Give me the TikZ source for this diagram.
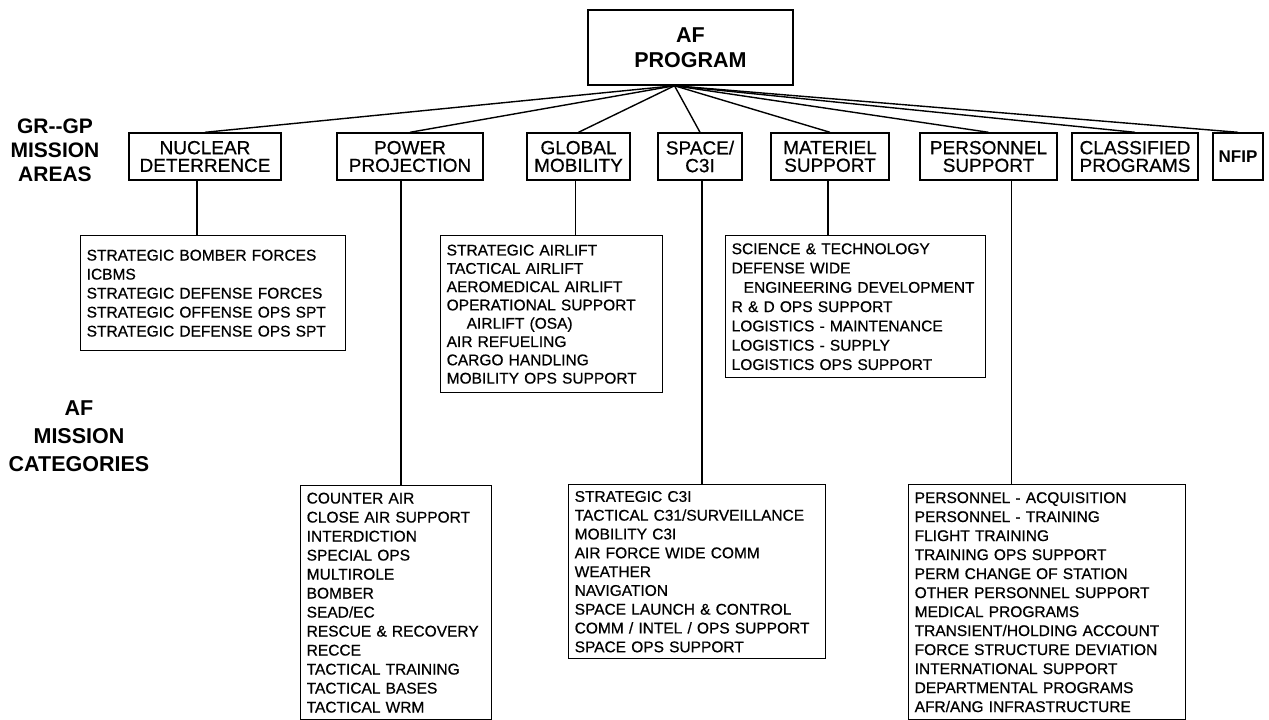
\documentclass[tikz,border=0pt]{standalone}
\usepackage{fontspec}
\setmainfont{Liberation Sans}
\newfontfamily\printfont{Liberation Sans}[UprightFeatures={FakeBold=0.6}]

\tikzset{
  prog/.style={draw,line width=1.5pt,align=center,inner sep=0pt,font=\bfseries\fontsize{21.5}{25}\selectfont},
  area/.style={draw,line width=1.4pt,align=center,inner sep=0pt,font=\printfont\fontsize{19}{17.7}\selectfont},
  cat/.style={draw,line width=1.4pt,anchor=north west,align=left,inner xsep=6pt,inner ysep=0pt,font=\printfont\fontsize{15.5}{19}\selectfont},
  head/.style={align=center,font=\bfseries\fontsize{21}{24}\selectfont},
  link/.style={line width=1.4pt}
}

\begin{document}
\begin{tikzpicture}[x=1pt,y=-1pt]
\useasboundingbox (0,0) rectangle (1269,720);

% top
\node[prog,minimum width=205,minimum height=75] at (690.5,47.5) (af) {AF\\PROGRAM};
\coordinate (hub) at ([xshift=-16pt]af.south);

% side labels
\node[head] at (55,150) (gplabel) {GR-{}-GP\\MISSION\\AREAS};
\node[head,font=\bfseries\fontsize{21.5}{28}\selectfont] at (79,436) (catlabel) {AF\\MISSION\\CATEGORIES};

% mission areas
\node[area,minimum width=152,minimum height=47] at (205,156.5) (nd) {NUCLEAR\\DETERRENCE};
\node[area,minimum width=146,minimum height=47] at (410,156.5) (pp) {POWER\\PROJECTION};
\node[area,minimum width=103,minimum height=47] at (578.5,156.5) (gm) {GLOBAL\\MOBILITY};
\node[area,minimum width=84,minimum height=47] at (700,156.5) (sc) {SPACE/\\C3I};
\node[area,minimum width=118,minimum height=47] at (830,156.5) (ms) {MATERIEL\\SUPPORT};
\node[area,minimum width=137,minimum height=47] at (988.5,156.5) (ps) {PERSONNEL\\SUPPORT};
\node[area,minimum width=126,minimum height=47] at (1135,156.5) (cp) {CLASSIFIED\\PROGRAMS};
\node[area,minimum width=50,minimum height=47,font=\bfseries\fontsize{17}{17.7}\selectfont] at (1238,156.5) (nf) {NFIP};

% mission categories
\node[cat,text width=253,minimum height=115] at (80,235) (ndcat) {STRATEGIC BOMBER FORCES\\ICBMS\\STRATEGIC DEFENSE FORCES\\STRATEGIC OFFENSE OPS SPT\\STRATEGIC DEFENSE OPS SPT};
\node[cat,text width=179,minimum height=234] at (300,485) (ppcat) {COUNTER AIR\\CLOSE AIR SUPPORT\\INTERDICTION\\SPECIAL OPS\\MULTIROLE\\BOMBER\\SEAD/EC\\RESCUE \& RECOVERY\\RECCE\\TACTICAL TRAINING\\TACTICAL BASES\\TACTICAL WRM};
\node[cat,text width=210,minimum height=157,font=\printfont\fontsize{15.5}{18.3}\selectfont] at (440,235) (gmcat) {STRATEGIC AIRLIFT\\TACTICAL AIRLIFT\\AEROMEDICAL AIRLIFT\\OPERATIONAL SUPPORT\\\hspace*{20pt}AIRLIFT (OSA)\\AIR REFUELING\\CARGO HANDLING\\MOBILITY OPS SUPPORT};
\node[cat,text width=245,minimum height=174,font=\printfont\fontsize{15.5}{18.8}\selectfont] at (568,484) (sccat) {STRATEGIC C3I\\TACTICAL C31/SURVEILLANCE\\MOBILITY C3I\\AIR FORCE WIDE COMM\\WEATHER\\NAVIGATION\\SPACE LAUNCH \& CONTROL\\COMM / INTEL / OPS SUPPORT\\SPACE OPS SUPPORT};
\node[cat,text width=248,minimum height=142,font=\printfont\fontsize{15.5}{19.3}\selectfont] at (725,235) (mscat) {SCIENCE \& TECHNOLOGY\\DEFENSE WIDE\\\hspace*{12pt}ENGINEERING DEVELOPMENT\\R \& D OPS SUPPORT\\LOGISTICS - MAINTENANCE\\LOGISTICS - SUPPLY\\LOGISTICS OPS SUPPORT};
\node[cat,text width=265,minimum height=235] at (908,484) (pscat) {PERSONNEL - ACQUISITION\\PERSONNEL - TRAINING\\FLIGHT TRAINING\\TRAINING OPS SUPPORT\\PERM CHANGE OF STATION\\OTHER PERSONNEL SUPPORT\\MEDICAL PROGRAMS\\TRANSIENT/HOLDING ACCOUNT\\FORCE STRUCTURE DEVIATION\\INTERNATIONAL SUPPORT\\DEPARTMENTAL PROGRAMS\\AFR/ANG INFRASTRUCTURE};

% program to areas
\draw[link] (hub) -- (nd.north);
\draw[link] (hub) -- (pp.north);
\draw[link] (hub) -- (gm.north);
\draw[link] (hub) -- (sc.north);
\draw[link] (hub) -- (ms.north);
\draw[link] (hub) -- (ps.north);
\draw[link] (hub) -- (cp.north);
\draw[link] (hub) -- (nf.north);

% areas to categories
\draw[link] ([xshift=-8pt]nd.south) -- ([xshift=-8pt]nd.south |- ndcat.north);
\draw[link] ([xshift=-9pt]pp.south) -- ([xshift=-9pt]pp.south |- ppcat.north);
\draw[link] ([xshift=-3pt]gm.south) -- ([xshift=-3pt]gm.south |- gmcat.north);
\draw[link] ([xshift=2pt]sc.south) -- ([xshift=2pt]sc.south |- sccat.north);
\draw[link] ([xshift=-2pt]ms.south) -- ([xshift=-2pt]ms.south |- mscat.north);
\draw[link] ([xshift=23pt]ps.south) -- ([xshift=23pt]ps.south |- pscat.north);
\end{tikzpicture}
\end{document}
